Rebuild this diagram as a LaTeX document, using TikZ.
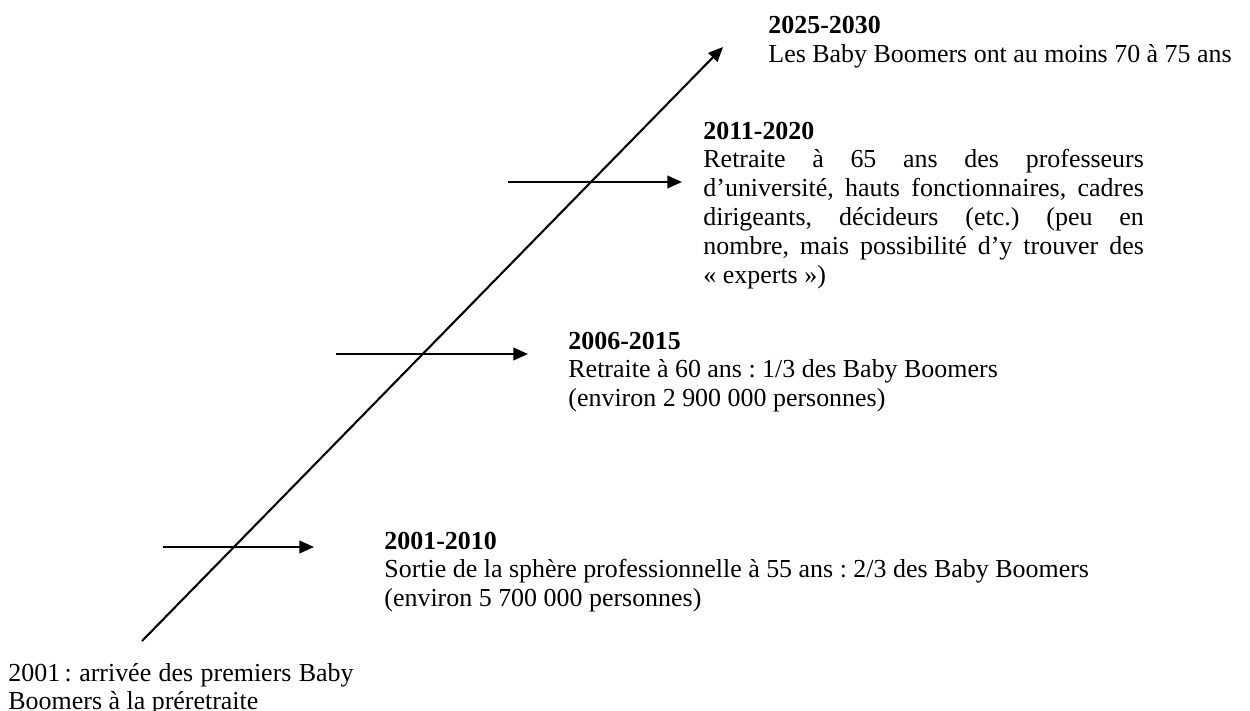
\documentclass[tikz,border=0pt]{standalone}
\usepackage{fontspec}
\setmainfont{Liberation Serif}
\usetikzlibrary{arrows.meta}
\tikzset{
  period/.style={anchor=base west, inner sep=0pt, align=justify,
    font=\fontsize{12.4}{13.8}\selectfont},
  flow/.style={line width=1pt, -{Triangle[length=7pt,width=6pt]}},
}
\begin{document}
\frenchspacing\hyphenpenalty=10000
\begin{tikzpicture}[x=0.0168cm, y=-0.0168cm]
    \useasboundingbox (0,0) rectangle (1250,710);
    % time axis
    \coordinate (axisStart) at (142,641);
    \coordinate (axisEnd) at (723,47);
    \draw[flow] (axisStart) -- (axisEnd);
    % periods
    \coordinate (a01) at (163,547);
    \coordinate (b01) at (314,547);
    \coordinate (a06) at (336,354);
    \coordinate (b06) at (528,354);
    \coordinate (a11) at (508,182);
    \coordinate (b11) at (682,182);
    \draw[flow] (a01) -- (b01);
    \draw[flow] (a06) -- (b06);
    \draw[flow] (a11) -- (b11);
    % texts
    \node[period, text width=5.8cm] (start01) at (8,681)
        {2001\,: arrivée des premiers Baby\linebreak Boomers à la préretraite};
    \node[period, text width=13cm] (period01) at (384,549)
        {\textbf{2001-2010}\\Sortie de la sphère professionnelle à 55 ans : 2/3 des Baby Boomers\\(environ 5~700~000 personnes)};
    \node[period, text width=8cm] (period06) at (568,349)
        {\textbf{2006-2015}\\Retraite à 60 ans : 1/3 des Baby Boomers\\(environ 2~900~000 personnes)};
    \node[period, text width=7.4cm] (period11) at (703,139)
        {\textbf{2011-2020}\\Retraite à 65 ans des professeurs\linebreak d’université, hauts fonctionnaires, cadres\linebreak dirigeants, décideurs (etc.) (peu en\linebreak nombre, mais possibilité d’y trouver des\linebreak «~experts~»)};
    \node[period, text width=8.5cm] (period25) at (768,34)
        {\textbf{2025-2030}\\Les Baby Boomers ont au moins 70 à 75 ans};
\end{tikzpicture}
\end{document}
